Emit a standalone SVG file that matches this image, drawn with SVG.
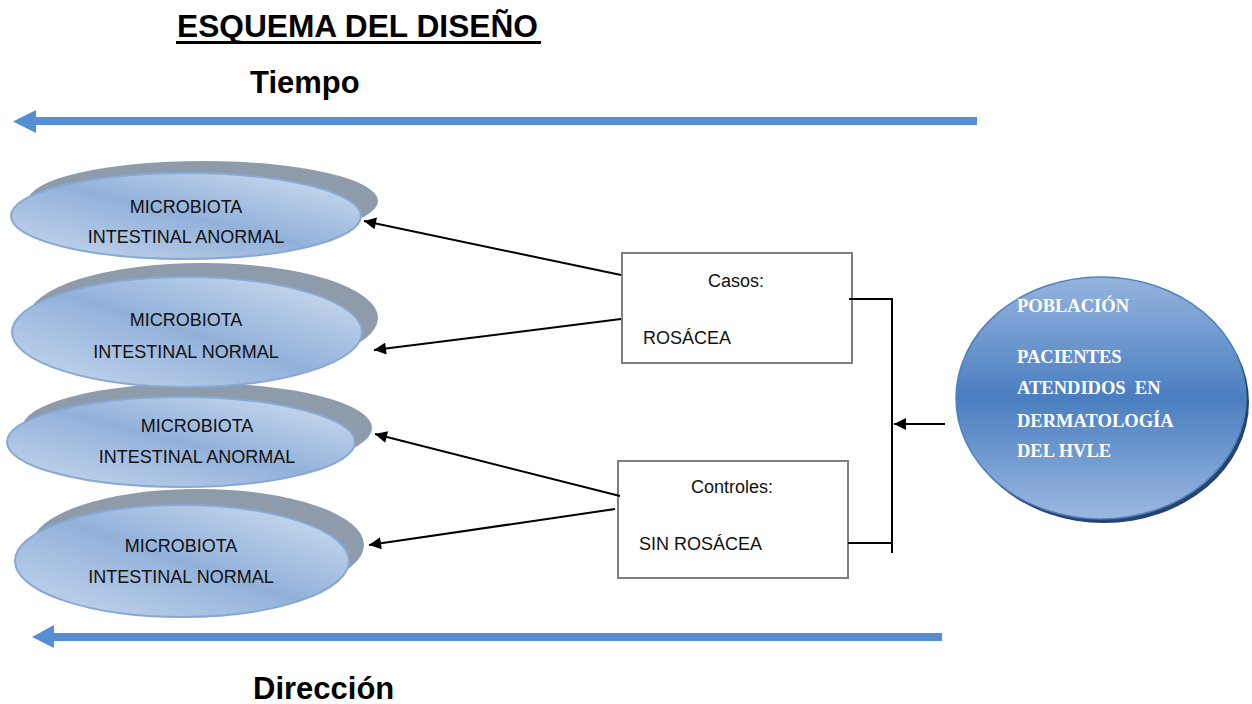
<svg xmlns="http://www.w3.org/2000/svg" width="1252" height="704" viewBox="0 0 1252 704">
<defs>
<style>
.title{font-family:"Liberation Sans",Arial,sans-serif;font-weight:bold;fill:#000}
.el{font-family:"Liberation Sans",Arial,sans-serif;font-size:18px;fill:#111;text-anchor:middle}
.bx{font-family:"Liberation Sans",Arial,sans-serif;font-size:18px;fill:#111}
.pob{font-family:"Liberation Serif","Times New Roman",serif;font-weight:bold;font-size:18.5px;fill:#fff}
.shadow{fill:#8d9bab}
.front{fill:url(#gEl);stroke:#86a9d6;stroke-width:2}
.box{fill:#fff;stroke:#7f7f7f;stroke-width:2}
.con{stroke:#000;stroke-width:2;fill:none}
.blue{fill:#558ed5}
</style>
<linearGradient id="gEl" x1="1" y1="0" x2="0" y2="1">
<stop offset="0" stop-color="#d2e0f1"/>
<stop offset="0.5" stop-color="#92b1da"/>
<stop offset="1" stop-color="#cad9ee"/>
</linearGradient>
<linearGradient id="gPob" x1="0" y1="0" x2="0" y2="1">
<stop offset="0" stop-color="#95b4de"/>
<stop offset="0.5" stop-color="#4a7ec0"/>
<stop offset="1" stop-color="#9bb8e0"/>
</linearGradient>
<marker id="ah" viewBox="0 0 10 10" refX="10" refY="5" markerWidth="7" markerHeight="6" markerUnits="strokeWidth" orient="auto">
<path d="M0,0 L10,5 L0,10 z" fill="#000"/>
</marker>
</defs>
<rect width="1252" height="704" fill="#fff"/>

<g id="title">
<text class="title" x="177" y="37" font-size="31.7">ESQUEMA DEL DISEÑO</text>
<rect x="176" y="41" width="365" height="3" fill="#000"/>
</g>
<g id="tiempo">
<text class="title" x="250" y="93" font-size="31">Tiempo</text>
<path class="blue" d="M977,117 L36,117 L36,110 L13,121.5 L36,133 L36,125 L977,125 z"/>
</g>
<g id="direccion">
<path class="blue" d="M942,633 L54,633 L54,625 L32,637 L54,648 L54,641 L942,641 z"/>
<text class="title" x="253" y="699" font-size="31">Dirección</text>
</g>

<g id="ellipse4">
<ellipse class="shadow" cx="198" cy="545" rx="166" ry="56"/>
<ellipse class="front" cx="182" cy="561" rx="167" ry="56"/>
<text class="el" x="181" y="552">MICROBIOTA</text>
<text class="el" x="181" y="583">INTESTINAL NORMAL</text>
</g>
<g id="ellipse3">
<ellipse class="shadow" cx="197" cy="428" rx="175" ry="45"/>
<ellipse class="front" cx="181" cy="442" rx="174" ry="45"/>
<text class="el" x="197" y="432">MICROBIOTA</text>
<text class="el" x="197" y="463">INTESTINAL ANORMAL</text>
</g>
<g id="ellipse2">
<ellipse class="shadow" cx="203" cy="318" rx="175" ry="55"/>
<ellipse class="front" cx="187" cy="332" rx="175" ry="55"/>
<text class="el" x="186" y="326">MICROBIOTA</text>
<text class="el" x="186" y="358">INTESTINAL NORMAL</text>
</g>
<g id="ellipse1">
<ellipse class="shadow" cx="203" cy="201" rx="175" ry="40"/>
<ellipse class="front" cx="186" cy="216" rx="175" ry="43"/>
<text class="el" x="186" y="213">MICROBIOTA</text>
<text class="el" x="186" y="243">INTESTINAL ANORMAL</text>
</g>

<g id="casos">
<rect class="box" x="622" y="253" width="230" height="110"/>
<text class="bx" x="736" y="287" text-anchor="middle">Casos:</text>
<text class="bx" x="643" y="344">ROSÁCEA</text>
</g>
<g id="controles">
<rect class="box" x="618" y="461" width="230" height="117"/>
<text class="bx" x="732" y="493" text-anchor="middle">Controles:</text>
<text class="bx" x="639" y="550">SIN ROSÁCEA</text>
</g>

<g id="poblacion">
<ellipse cx="1104" cy="402" rx="145" ry="121" fill="#24446f"/>
<ellipse cx="1101" cy="398" rx="145" ry="121" fill="url(#gPob)" stroke="#4f81bd" stroke-width="1.5"/>
<text class="pob" x="1017" y="312">POBLACIÓN</text>
<text class="pob" x="1017" y="363">PACIENTES</text>
<text class="pob" x="1017" y="394" xml:space="preserve">ATENDIDOS  EN</text>
<text class="pob" x="1017" y="427">DERMATOLOGÍA</text>
<text class="pob" x="1017" y="457">DEL HVLE</text>
</g>

<g id="connectors">
<line class="con" x1="621" y1="275" x2="364" y2="221" marker-end="url(#ah)"/>
<line class="con" x1="621" y1="319" x2="374" y2="350" marker-end="url(#ah)"/>
<line class="con" x1="620" y1="496" x2="375" y2="434" marker-end="url(#ah)"/>
<line class="con" x1="615" y1="509" x2="369" y2="545" marker-end="url(#ah)"/>
<polyline class="con" points="849,299 892,299 892,553"/>
<line class="con" x1="848" y1="543" x2="892" y2="543"/>
<line class="con" x1="945" y1="424" x2="894" y2="424" marker-end="url(#ah)"/>
</g>
</svg>
